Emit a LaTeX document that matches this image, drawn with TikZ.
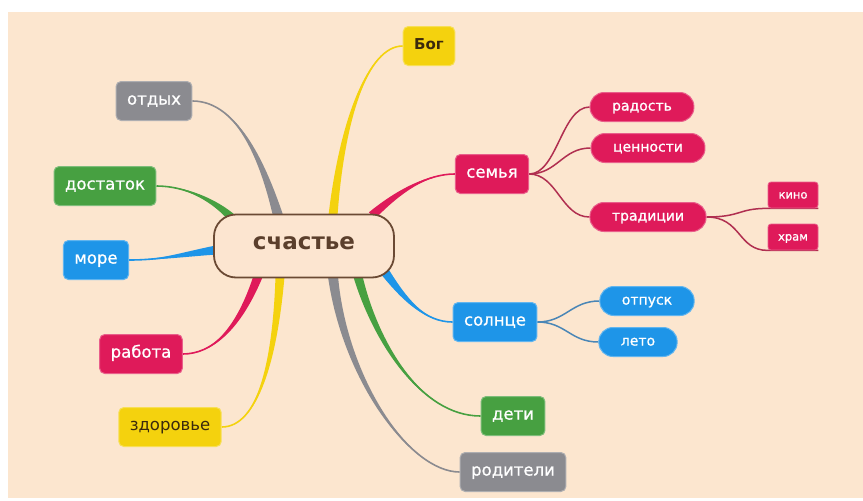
\documentclass[tikz,border=0pt]{standalone}
\usepackage{fontspec}
\setmainfont{DejaVu Sans}
\newfontfamily\heavier[FakeBold=0.9]{DejaVu Sans}
\usetikzlibrary{calc}

\definecolor{paper}{HTML}{FCE6CF}
\definecolor{hubfill}{HTML}{FCE5D0}
\definecolor{hubline}{HTML}{6B4A34}
\definecolor{crim}{HTML}{DF1A5A}
\definecolor{leaf}{HTML}{47A041}
\definecolor{sky}{HTML}{1E95E8}
\definecolor{stone}{HTML}{8B8B90}
\definecolor{sun}{HTML}{F4D20E}
\definecolor{ink}{HTML}{3B2A0C}
\definecolor{crimthin}{HTML}{B02F50}
\definecolor{skythin}{HTML}{4A86B6}

\pgfdeclarelayer{back}
\pgfdeclarelayer{links}
\pgfsetlayers{back,links,main}

% tapered branch: colour, start, control 1, control 2, end, half width
\newcommand\taper[6]{%
  \fill[#1] ($(#2)!#6!90:(#3)$) .. controls ($(#3)!#6*0.5!90:(#4)$) and (#4) .. (#5)
     .. controls (#4) and ($(#3)!#6*0.5!-90:(#4)$) .. ($(#2)!#6!-90:(#3)$) -- cycle;
  \draw[#1, line width=1.6pt] (#2) .. controls (#3) and (#4) .. (#5);
}

\tikzset{
  box/.style={rounded corners=5pt, inner xsep=11pt, inner ysep=0pt, minimum height=39pt,
    text height=1.3ex, text depth=0pt, font=\fontsize{16.5}{16.5}\heavier, text=white, line width=1pt},
  pill/.style={rounded corners=14pt, inner xsep=22pt, inner ysep=0pt, minimum height=29pt,
    text height=1.3ex, text depth=0pt, font=\fontsize{14}{14}\heavier, text=white, line width=1pt},
  tag/.style={rounded corners=3pt, inner sep=0pt, minimum width=50pt, minimum height=26pt,
    text height=1.3ex, text depth=0pt, font=\fontsize{11.5}{11.5}\heavier, text=white, line width=0.8pt},
  crimfill/.style={fill=crim, draw=crim!70!white},
  leaffill/.style={fill=leaf, draw=leaf!70!white},
  skyfill/.style={fill=sky, draw=sky!70!white},
  stonefill/.style={fill=stone, draw=stone!70!white},
  sunfill/.style={fill=sun, draw=sun!70!white, text=ink},
  hub/.style={rounded corners=22pt, fill=hubfill, draw=hubline, line width=1.8pt,
    minimum width=180pt, minimum height=63pt, text=hubline!85!black,
    font=\fontsize{23}{23}\selectfont\bfseries, text height=1.2ex, text depth=0pt},
  thinred/.style={draw=crimthin, line width=1.5pt},
  thinblue/.style={draw=skythin, line width=1.5pt},
}

\begin{document}
\begin{tikzpicture}[x=1pt,y=-1pt]
\useasboundingbox (0,0) rectangle (863,501);
\begin{pgfonlayer}{back}
  \fill[white] (0,0) rectangle (863,501);
  \fill[paper] (8,12) rectangle (863,498);
\end{pgfonlayer}

% central idea
\node[hub] (c) at (304,246) {счастье};

% first level
\node[box, sunfill, font=\fontsize{15}{15}\selectfont\bfseries] (god) at (429,46) {Бог};
\node[box, stonefill] (rest) at (154,101) {отдых};
\node[box, leaffill] (plenty) at (105,186) {достаток};
\node[box, skyfill] (sea) at (96,260) {море};
\node[box, crimfill] (work) at (141,354) {работа};
\node[box, sunfill, font=\fontsize{16.5}{16.5}\selectfont] (health) at (170,427) {здоровье};
\node[box, crimfill] (family) at (492,174) {семья};
\node[box, skyfill] (sunny) at (495,322) {солнце};
\node[box, leaffill] (kids) at (513,416) {дети};
\node[box, stonefill] (parents) at (513,472) {родители};

% second level
\node[pill, crimfill] (joy) at (642,107) {радость};
\node[pill, crimfill] (values) at (648,148) {ценности};
\node[pill, crimfill] (trad) at (648,217) {традиции};
\node[pill, skyfill] (leave) at (647,301) {отпуск};
\node[pill, skyfill] (summer) at (638,342) {лето};

% third level
\node[tag, crimfill] (cinema) at (793,195) {кино};
\node[tag, crimfill] (church) at (793,237) {храм};

% branch roots on the central node
\coordinate (s-god) at ($(c.north)+(29,2)$);
\coordinate (s-rest) at ($(c.north)+(-26,2)$);
\coordinate (s-plenty) at ($(c)+(-70,-26)$);
\coordinate (s-sea) at ($(c.west)+(3,4)$);
\coordinate (s-work) at ($(c.south)+(-46,-2)$);
\coordinate (s-health) at ($(c.south)+(-24,-2)$);
\coordinate (s-family) at ($(c.north)+(68,2)$);
\coordinate (s-sunny) at ($(c)+(81,26)$);
\coordinate (s-kids) at ($(c.south)+(54,-2)$);
\coordinate (s-parents) at ($(c.south)+(29,-2)$);

\begin{pgfonlayer}{links}
  \taper{sun}{s-god}{342,120}{368,46}{god.west}{4.5pt}
  \taper{stone}{s-rest}{265,170}{240,101}{rest.east}{5pt}
  \taper{leaf}{s-plenty}{215,200}{185,186}{plenty.east}{4.5pt}
  \taper{sky}{s-sea}{180,255}{160,260}{sea.east}{4.5pt}
  \taper{crim}{s-work}{238,330}{212,354}{work.east}{4.5pt}
  \taper{sun}{s-health}{275,360}{258,427}{health.east}{4.5pt}
  \taper{crim}{s-family}{400,190}{428,174}{family.west}{4.5pt}
  \taper{sky}{s-sunny}{405,300}{425,322}{sunny.west}{4.5pt}
  \taper{leaf}{s-kids}{375,340}{420,416}{kids.west}{4.5pt}
  \taper{stone}{s-parents}{345,380}{410,472}{parents.west}{5pt}

  \draw[thinred] (family.east) .. controls +(28,0) and +(-28,0) .. (joy.west);
  \draw[thinred] (family.east) .. controls +(28,0) and +(-28,0) .. (values.west);
  \draw[thinred] (family.east) .. controls +(28,0) and +(-28,0) .. (trad.west);
  \draw[thinred] (trad.east) .. controls +(35,0) and +(-30,0) .. (cinema.south west) -- (cinema.south east);
  \draw[thinred] (trad.east) .. controls +(35,0) and +(-30,0) .. (church.south west) -- (church.south east);
  \draw[thinblue] (sunny.east) .. controls +(28,0) and +(-28,0) .. (leave.west);
  \draw[thinblue] (sunny.east) .. controls +(28,0) and +(-28,0) .. (summer.west);
\end{pgfonlayer}
\end{tikzpicture}
\end{document}
